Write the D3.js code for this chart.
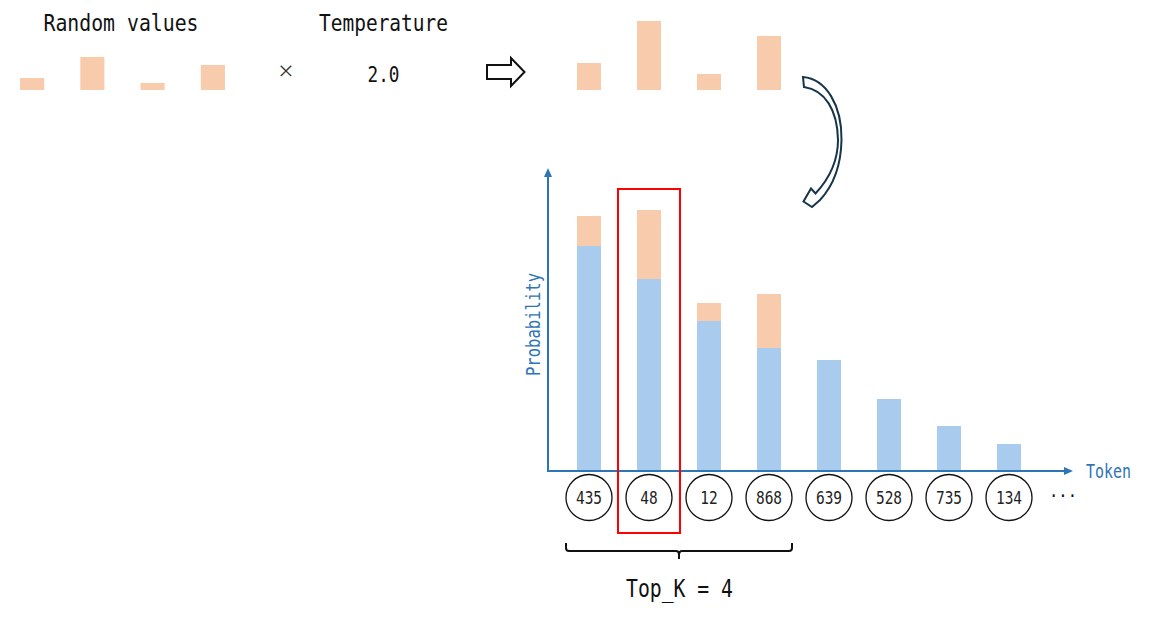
<!DOCTYPE html>
<html>
<head>
<meta charset="utf-8">
<script src="https://cdn.jsdelivr.net/npm/d3@7"></script>
<style>
  html, body { margin: 0; padding: 0; background: #fff; }
  svg { display: block; }
  text { font-family: "DejaVu Sans Mono", monospace; }
</style>
</head>
<body>
<svg id="chart" width="1152" height="617"></svg>
<script>
// data
let randomValues = [0.12, 0.33, 0.07, 0.25];
let temperature = "2.0";
let scaledValues = [0.27, 0.69, 0.16, 0.54];

let tokens = ["435", "48", "12", "868", "639", "528", "735", "134"];
let baseProb = [0.75, 0.64, 0.50, 0.41, 0.37, 0.24, 0.15, 0.09];
let noisyProb = [0.85, 0.87, 0.56, 0.59];
let topK = 4;
let picked = "48";

let orange = "#F8CBAD";
let blue = "#A9CCEE";
let axisBlue = "#2E75B6";

let svg = d3.select("#chart");

// helper: text squeezed to a given width
function label(x, y, txt, size, len, color) {
  let t = svg.append("text")
    .attr("x", x)
    .attr("y", y)
    .attr("text-anchor", "middle")
    .attr("font-size", size)
    .attr("fill", color || "#111")
    .text(txt);
  if (len) t.attr("textLength", len).attr("lengthAdjust", "spacingAndGlyphs");
  return t;
}

// top row: random values x temperature -> scaled
let xSmall = d3.scaleBand()
  .domain(d3.range(randomValues.length))
  .range([2, 243])
  .paddingInner(0.6)
  .paddingOuter(0.3);
let hSmall = d3.scaleLinear().domain([0, 1]).range([0, 100]);
let rowBase = 90;

svg.append("g").selectAll("rect")
  .data(randomValues)
  .join("rect")
  .attr("x", (d, i) => xSmall(i))
  .attr("y", d => rowBase - hSmall(d))
  .attr("width", xSmall.bandwidth())
  .attr("height", d => hSmall(d))
  .attr("fill", orange);

label(121, 30.5, "Random values", 23, 155);
label(383.5, 30.5, "Temperature", 22.5, 129);
label(286, 80, "\u00d7", 26, null, "#333").style("font-family", "'Noto Sans', sans-serif").style("font-weight", 300);
label(383.5, 81.5, temperature, 22, 32);

// block arrow
svg.append("path")
  .attr("d", "M487,65 L511,65 L511,58 L524.5,72 L511,86 L511,79 L487,79 Z")
  .attr("fill", "#fff")
  .attr("stroke", "#111")
  .attr("stroke-width", 2)
  .attr("stroke-linejoin", "miter");

// main chart scales
let x = d3.scaleBand()
  .domain(tokens)
  .range([559, 1039])
  .paddingInner(0.6)
  .paddingOuter(0.3);
let y = d3.scaleLinear().domain([0, 1]).range([471, 171]);

// scaled noise bars, aligned with the first top_k tokens
svg.append("g").selectAll("rect")
  .data(scaledValues)
  .join("rect")
  .attr("x", (d, i) => x(tokens[i]))
  .attr("y", d => rowBase - hSmall(d))
  .attr("width", x.bandwidth())
  .attr("height", d => hSmall(d))
  .attr("fill", orange);

// curved arrow
svg.append("path")
  .attr("d", "M803,77 C826,79 842,105 841.5,140 C841,166 833,186 820,200 " +
             "L812,207 L803.5,201.5 L811,188.5 L815.5,193.5 " +
             "C828,180 838,162 838,140 C837.5,110 825,90 804,87 Z")
  .attr("fill", "#fff")
  .attr("stroke", "#17354A")
  .attr("stroke-width", 2)
  .attr("stroke-linejoin", "miter");

// orange part (noise added) then blue probability on top
svg.append("g").selectAll("rect")
  .data(noisyProb)
  .join("rect")
  .attr("x", (d, i) => x(tokens[i]))
  .attr("y", d => y(d))
  .attr("width", x.bandwidth())
  .attr("height", d => y(0) - y(d))
  .attr("fill", orange);

svg.append("g").selectAll("rect")
  .data(baseProb)
  .join("rect")
  .attr("x", (d, i) => x(tokens[i]))
  .attr("y", d => y(d))
  .attr("width", x.bandwidth())
  .attr("height", d => y(0) - y(d))
  .attr("fill", blue);

// axes with arrow heads
let ax0 = 548, axEnd = 1073, ayTop = 168;
svg.append("line")
  .attr("x1", ax0).attr("y1", y(0))
  .attr("x2", ax0).attr("y2", ayTop + 6)
  .attr("stroke", axisBlue).attr("stroke-width", 2);
svg.append("path")
  .attr("d", `M${ax0},${ayTop} L${ax0 - 4},${ayTop + 9} L${ax0 + 4},${ayTop + 9} Z`)
  .attr("fill", axisBlue);
svg.append("line")
  .attr("x1", ax0 - 1).attr("y1", y(0))
  .attr("x2", axEnd - 6).attr("y2", y(0))
  .attr("stroke", axisBlue).attr("stroke-width", 2);
svg.append("path")
  .attr("d", `M${axEnd},${y(0)} L${axEnd - 9},${y(0) - 4} L${axEnd - 9},${y(0) + 4} Z`)
  .attr("fill", axisBlue);

label(1108.5, 477.5, "Token", 19, 45, axisBlue);
label(0, 0, "Probability", 19.5, 103, axisBlue)
  .attr("transform", "translate(540,324.5) rotate(-90)");

// token circles
let cy = 497.5, r = 23;
let tokG = svg.append("g").selectAll("g")
  .data(tokens)
  .join("g")
  .attr("transform", d => `translate(${x(d) + x.bandwidth() / 2},${cy})`);
tokG.append("circle")
  .attr("r", r)
  .attr("fill", "#fff")
  .attr("stroke", "#111")
  .attr("stroke-width", 1.3);
tokG.append("text")
  .attr("y", 6.5)
  .attr("text-anchor", "middle")
  .attr("font-size", 18)
  .attr("fill", "#222")
  .attr("textLength", d => d.length * 8.7)
  .attr("lengthAdjust", "spacingAndGlyphs")
  .text(d => d);

label(1063, 502, "\u00b7\u00b7\u00b7", 18, 28, "#111");

// picked token box
let px = x(picked) + x.bandwidth() / 2;
svg.append("rect")
  .attr("x", px - 31)
  .attr("y", 189)
  .attr("width", 62)
  .attr("height", 344)
  .attr("fill", "none")
  .attr("stroke", "#FF0000")
  .attr("stroke-width", 2);

// top_k bracket
let bl = x(tokens[0]) + x.bandwidth() / 2 - r;
let br = x(tokens[topK - 1]) + x.bandwidth() / 2 + r;
let bm = (bl + br) / 2;
svg.append("path")
  .attr("d", `M${bl},543 L${bl},548 Q${bl},551 ${bl + 3},551 L${bm - 3},551 Q${bm},551 ${bm},555 L${bm},559 ` +
             `M${bm},555 Q${bm},551 ${bm + 3},551 L${br - 3},551 Q${br},551 ${br},548 L${br},543`)
  .attr("fill", "none")
  .attr("stroke", "#111")
  .attr("stroke-width", 2);

label(679.5, 596.5, `Top_K = ${topK}`, 25, 107);
</script>
</body>
</html>
